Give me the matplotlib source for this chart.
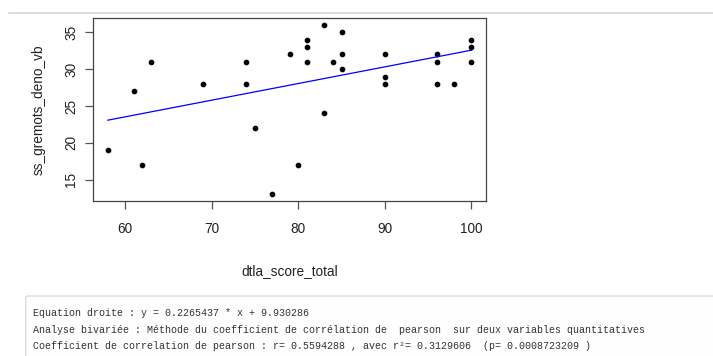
import matplotlib
matplotlib.use("Agg")
import matplotlib.pyplot as plt
from matplotlib.patches import FancyBboxPatch
from matplotlib.lines import Line2D
import numpy as np

# ---- data ----
dtla_score_total = [58, 61, 62, 63, 69, 74, 74, 75, 77, 79, 80, 81, 81, 81, 83,
                    83, 84, 85, 85, 85, 90, 90, 90, 96, 96, 96, 98, 100, 100, 100]
ss_gremots_deno_vb = [19, 27, 17, 31, 28, 31, 28, 22, 13, 32, 17, 34, 33, 31, 36,
                      24, 31, 35, 32, 30, 32, 29, 28, 32, 31, 28, 28, 34, 33, 31]
slope = 0.2265437
intercept = 9.930286
x_ticks = [60, 70, 80, 90, 100]
y_ticks = [15, 20, 25, 30, 35]
x_label = "dtla_score_total"
y_label = "ss_gremots_deno_vb"
output_lines = [
    "Equation droite : y = 0.2265437 * x + 9.930286",
    "Analyse bivariée : Méthode du coefficient de corrélation de  pearson  sur deux variables quantitatives",
    "Coefficient de correlation de pearson : r= 0.5594288 , avec r²= 0.3129606  (p= 0.0008723209 )",
]

W, H = 713, 356
DPI = 100
fig = plt.figure(figsize=(W / DPI, H / DPI), dpi=DPI)
fig.patch.set_facecolor("white")

def fx(px):
    return px / W

def fy(py):
    return (H - py) / H

plt.rcParams['font.family'] = ['Liberation Sans', 'DejaVu Sans']

# top separator line
fig.add_artist(Line2D([fx(9), fx(713)], [fy(13), fy(13)], color="#d6d6d6", lw=1.2,
                      transform=fig.transFigure))

# axes
left, right, top, bottom = 93.3, 486, 18.3, 201
ax = fig.add_axes([fx(left), fy(bottom), fx(right - left), (bottom - top) / H])
ax.set_facecolor("white")

xs = np.array(dtla_score_total, dtype=float)
ys = np.array(ss_gremots_deno_vb, dtype=float)
ax.plot(xs, ys, linestyle="none", marker="o", color="black", markersize=3.1)
xl = np.array([xs.min(), xs.max()])
ax.plot(xl, slope * xl + intercept, color="#0000ff", lw=0.9)

xr = xs.max() - xs.min()
yr = ys.max() - ys.min()
ax.set_xlim(xs.min() - 0.04 * xr, xs.max() + 0.04 * xr)
ax.set_ylim(ys.min() - 0.04 * yr, ys.max() + 0.04 * yr)

ax.set_xticks(x_ticks)
ax.set_yticks(y_ticks)
ax.set_xticklabels([str(v) for v in x_ticks])
ax.set_yticklabels([str(v) for v in y_ticks], rotation=90, va="center")
ax.tick_params(axis="both", direction="out", length=5.8, width=0.9, color="#555555",
               labelsize=9.8, labelcolor="#222222")
ax.tick_params(axis="x", pad=9.5)
ax.tick_params(axis="y", pad=5.0)
for s in ax.spines.values():
    s.set_color("#444444")
    s.set_linewidth(0.9)

fig.text(fx(290), fy(275), x_label, ha="center", va="baseline", fontsize=9.8, color="#222222")
fig.text(fx(38.5), fy(109.6), y_label, ha="center", va="center", rotation=90,
         fontsize=9.8, color="#222222")

# console output box
box = FancyBboxPatch((fx(25.7), fy(380)), fx(720 - 25.7), (380 - 296) / H,
                     boxstyle="round,pad=0,rounding_size=0.004",
                     transform=fig.transFigure, facecolor="#fefefe",
                     edgecolor="#dcdcdc", lw=1.0)
fig.add_artist(box)
for i, line in enumerate(output_lines):
    fig.text(fx(33), fy(313.3 + 16.4 * i), line, ha="left", va="center",
             family=["Liberation Mono", "DejaVu Sans Mono"], fontsize=7.2, color="#333333")

fig.savefig("out.png", dpi=DPI, facecolor="white")
